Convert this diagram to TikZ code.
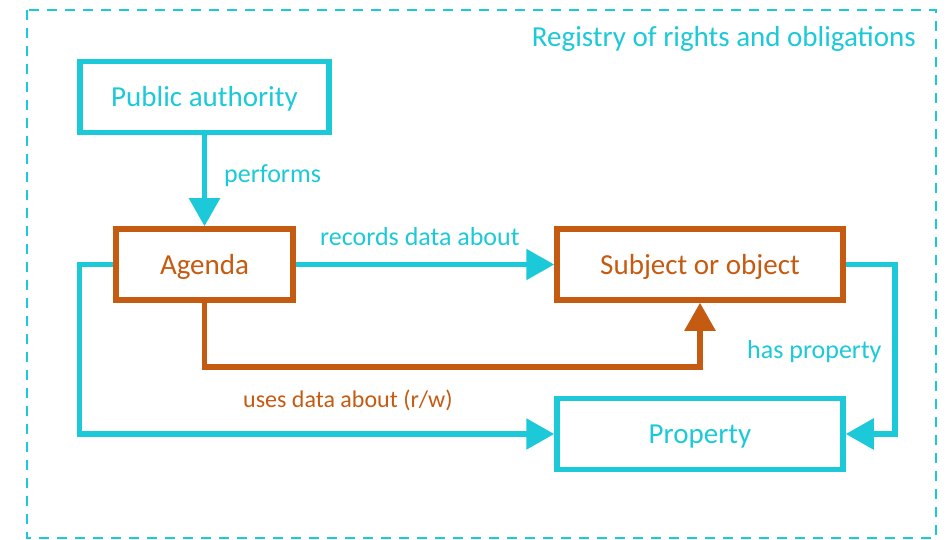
\documentclass[tikz,border=0pt]{standalone}
\usepackage{fontspec}
\setmainfont{Carlito}
\usetikzlibrary{arrows.meta}
\definecolor{regcyan}{HTML}{1BC9D8}
\definecolor{regorange}{HTML}{C55A11}
\tikzset{
    entity/.style={draw, line width=5.5pt, inner sep=0pt, minimum height=71pt,
        text height=23pt, text depth=4pt, font=\fontsize{29}{34}\selectfont},
    rel/.style={line width=5.5pt, -{Triangle[width=30pt,length=28pt]}},
    lbl/.style={inner sep=0pt, font=\fontsize{26}{31}\selectfont}
}

\begin{document}
\begin{tikzpicture}[x=1pt, y=-1pt]
    \useasboundingbox (0,0) rectangle (948,540);

    % Draw registry frame
    \draw[regcyan, line width=2.5pt, dash pattern=on 10pt off 8pt] (27,10) rectangle (936,538);
    \node[lbl, regcyan, anchor=base east, font=\fontsize{29}{34}\selectfont] (registry) at (916,47) {Registry of rights and obligations};

    % Place the entities
    \node[entity, regcyan, minimum width=249pt] (pubauth) at (204.5,97) {Public authority};
    \node[entity, regorange, minimum width=177pt] (agenda) at (204.5,264.5) {Agenda};
    \node[entity, regorange, minimum width=286pt] (subject) at (700,264.5) {Subject or object};
    \node[entity, regcyan, minimum width=286pt] (property) at (700,434) {Property};

    % Draw the relations
    \draw[rel, regcyan] (pubauth.south) -- (agenda.north);
    \node[lbl, regcyan, anchor=base west] (performs) at (224,183) {performs};

    \draw[rel, regcyan] (agenda.east) -- (subject.west);
    \node[lbl, regcyan, anchor=base west] (records) at (320,246) {records data about};

    \draw[rel, regcyan] (agenda.west) -- ++(-34,0) |- (property.west);

    \draw[rel, regorange] (agenda.south) -- ++(0,64) -| (subject.south);
    \node[lbl, regorange, anchor=base west, font=\fontsize{24}{29}\selectfont] (uses) at (243,407) {uses data about (r/w)};

    \draw[rel, regcyan] (subject.east) -- ++(49,0) |- (property.east);
    \node[lbl, regcyan, anchor=base west] (hasprop) at (747,358) {has property};
\end{tikzpicture}
\end{document}
